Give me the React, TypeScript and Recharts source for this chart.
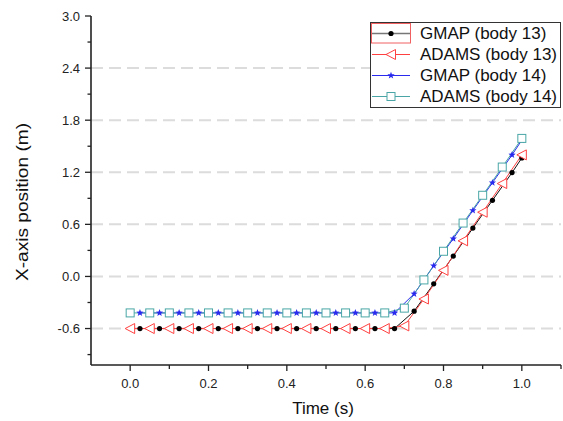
import React from 'react'
import { LineChart, Line, XAxis, YAxis, ReferenceLine, Legend } from 'recharts'

// sample times (s)
const adamsTime = [0, 0.05, 0.1, 0.15, 0.2, 0.25, 0.3, 0.35, 0.4, 0.45, 0.5, 0.55, 0.6, 0.65, 0.7, 0.75, 0.8, 0.85, 0.9, 0.95, 1.0]
const gmapTime = [0.025, 0.075, 0.125, 0.175, 0.225, 0.275, 0.325, 0.375, 0.425, 0.475, 0.525, 0.575, 0.625, 0.675, 0.725, 0.775, 0.825, 0.875, 0.925, 0.975, 1.0]

// x-axis position (m)
const gmap13 = [-0.6, -0.6, -0.6, -0.6, -0.6, -0.6, -0.6, -0.6, -0.6, -0.6, -0.6, -0.6, -0.6, -0.6, -0.4, -0.085, 0.235, 0.557, 0.877, 1.196, 1.365]
const adams13 = [-0.6, -0.6, -0.6, -0.6, -0.6, -0.6, -0.6, -0.6, -0.6, -0.6, -0.6, -0.6, -0.6, -0.6, -0.57, -0.26, 0.07, 0.41, 0.74, 1.07, 1.4]
const gmap14 = [-0.42, -0.42, -0.42, -0.42, -0.42, -0.42, -0.42, -0.42, -0.42, -0.42, -0.42, -0.42, -0.42, -0.42, -0.2, 0.123, 0.435, 0.76, 1.08, 1.4, 1.57]
const adams14 = [-0.42, -0.42, -0.42, -0.42, -0.42, -0.42, -0.42, -0.42, -0.42, -0.42, -0.42, -0.42, -0.42, -0.42, -0.365, -0.04, 0.29, 0.615, 0.935, 1.26, 1.59]

const xTicks = [0, 0.1, 0.2, 0.3, 0.4, 0.5, 0.6, 0.7, 0.8, 0.9, 1.0, 1.1]
const yTicks = [-0.9, -0.6, -0.3, 0, 0.3, 0.6, 0.9, 1.2, 1.5, 1.8, 2.1, 2.4, 2.7, 3.0]
const gridValues = [-0.6, 0, 0.6, 1.2, 1.8, 2.4]

const toPoints = (ts: number[], vs: number[]) => ts.map((t, i) => ({ t, v: vs[i] }))

const FONT = '"Liberation Sans", Arial, sans-serif'
const AXIS = '#222'
const RED = '#ff4040'
const BLUE = '#2a2aee'
const TEAL = '#4aa6a6'

const series = [
  { name: 'GMAP (body 13)', data: toPoints(gmapTime, gmap13), color: '#111', marker: 'dot' },
  { name: 'ADAMS (body 13)', data: toPoints(adamsTime, adams13), color: RED, marker: 'tri' },
  { name: 'GMAP (body 14)', data: toPoints(gmapTime, gmap14), color: BLUE, marker: 'star' },
  { name: 'ADAMS (body 14)', data: toPoints(adamsTime, adams14), color: TEAL, marker: 'square' },
]

function Marker({ kind, cx, cy, color }: { kind: string; cx: number; cy: number; color: string }) {
  if (kind === 'dot') return <circle cx={cx} cy={cy} r={2.6} fill="#000" />
  if (kind === 'tri')
    return <path d={`M${cx - 5},${cy} L${cx + 4.5},${cy - 5} L${cx + 4.5},${cy + 5} Z`} fill="#fff" stroke={color} strokeWidth={1} />
  if (kind === 'square')
    return <rect x={cx - 4} y={cy - 4} width={8} height={8} fill="#fff" stroke={color} strokeWidth={1} />
  const pts: string[] = []
  for (let i = 0; i < 10; i++) {
    const r = i % 2 === 0 ? 3.8 : 1.6
    const a = -Math.PI / 2 + (i * Math.PI) / 5
    pts.push(`${cx + r * Math.cos(a)},${cy + r * Math.sin(a)}`)
  }
  return <polygon points={pts.join(' ')} fill={color} />
}

const TICK_SIZE = 6
const Y_MARGIN = 5
const X_MARGIN = 8

function YTick(props: any) {
  const { x, y, payload } = props
  const v = payload.value as number
  const major = Math.abs(Math.round(v / 0.3)) % 2 === 0
  const ax = x + TICK_SIZE + Y_MARGIN
  return (
    <g>
      <line x1={ax} x2={ax - (major ? 6 : 3.5)} y1={y} y2={y} stroke={AXIS} strokeWidth={1.3} />
      {major && (
        <text x={x} y={y} dy="0.36em" textAnchor="end" fontSize={13} fill={AXIS} fontFamily={FONT}>
          {v.toFixed(1)}
        </text>
      )}
    </g>
  )
}

function XTick(props: any) {
  const { x, y, payload } = props
  const v = payload.value as number
  const major = Math.round(v * 10) % 2 === 0 && v < 1.05
  const ay = y - TICK_SIZE - X_MARGIN
  return (
    <g>
      <line x1={x} x2={x} y1={ay} y2={ay + (major ? 6 : 4)} stroke={AXIS} strokeWidth={1.3} />
      {major && (
        <text x={x} y={y} dy="0.71em" textAnchor="middle" fontSize={13} fill={AXIS} fontFamily={FONT}>
          {v.toFixed(1)}
        </text>
      )}
    </g>
  )
}

function XTitle(props: any) {
  const vb = props.viewBox
  return (
    <text x={vb.x + vb.width / 2 - 3} y={vb.y + 49} textAnchor="middle" fontSize={17} fill="#111" fontFamily={FONT}>
      Time (s)
    </text>
  )
}

function YTitle() {
  return (
    <text
      x={0}
      y={0}
      transform="translate(28 202) rotate(-90)"
      textAnchor="middle"
      fontSize={16}
      fill="#111"
      fontFamily={FONT}
      textLength={158}
      lengthAdjust="spacingAndGlyphs"
    >
      X-axis position (m)
    </text>
  )
}

function LegendBox() {
  return (
    <div style={{ border: '1px solid #333', background: '#fff', width: 189, fontFamily: FONT }}>
      {series.map((s, i) => (
        <div key={s.name} style={{ display: 'flex', alignItems: 'center', height: 21 }}>
          <svg width={40} height={21} style={{ display: 'block' }}>
            {i === 0 && <rect x={0.5} y={0.5} width={39} height={19.5} fill="none" stroke="#f06060" strokeWidth={1} />}
            <line x1={1} x2={39} y1={10.5} y2={10.5} stroke={i === 0 ? '#777' : s.color} strokeWidth={i === 0 ? 1.5 : 1} />
            <Marker kind={s.marker} cx={20} cy={10.5} color={s.color} />
          </svg>
          <span style={{ marginLeft: 9, fontSize: 17, color: '#111', whiteSpace: 'nowrap' }}>{s.name}</span>
        </div>
      ))}
    </div>
  )
}

export default function App() {
  return (
    <div style={{ position: 'absolute', left: 0, top: 0, background: '#fff' }}>
      <LineChart width={563} height={421} margin={{ top: 16, right: 2, bottom: 26, left: 31 }}>
        <XAxis
          dataKey="t"
          type="number"
          domain={[-0.1, 1.1]}
          ticks={xTicks}
          allowDataOverflow
          interval={0}
          height={30}
          tickSize={TICK_SIZE}
          tickMargin={X_MARGIN}
          tickLine={false}
          tick={<XTick />}
          axisLine={{ stroke: AXIS, strokeWidth: 1.6 }}
          label={<XTitle />}
        />
        <YAxis
          dataKey="v"
          type="number"
          domain={[-1.02, 3.0]}
          ticks={yTicks}
          allowDataOverflow
          interval={0}
          width={60}
          tickSize={TICK_SIZE}
          tickMargin={Y_MARGIN}
          tickLine={false}
          tick={<YTick />}
          axisLine={{ stroke: AXIS, strokeWidth: 1.6 }}
          label={<YTitle />}
        />
        {gridValues.map((g) => (
          <ReferenceLine key={g} y={g} stroke="#dcdcdc" strokeWidth={2} strokeDasharray="12 6" ifOverflow="hidden" />
        ))}
        {series.map((s) => (
          <Line
            key={s.name}
            data={s.data}
            dataKey="v"
            name={s.name}
            type="linear"
            stroke={s.color}
            strokeWidth={1}
            isAnimationActive={false}
            dot={(p: any) => <Marker key={`${s.name}-${p.index}`} kind={s.marker} cx={p.cx} cy={p.cy} color={s.color} />}
            activeDot={false}
          />
        ))}
        <Legend
          layout="vertical"
          align="center"
          verticalAlign="middle"
          content={() => <LegendBox />}
          wrapperStyle={{ position: 'absolute', left: 370, top: 22, width: 191, height: 'auto' }}
        />
      </LineChart>
    </div>
  )
}
